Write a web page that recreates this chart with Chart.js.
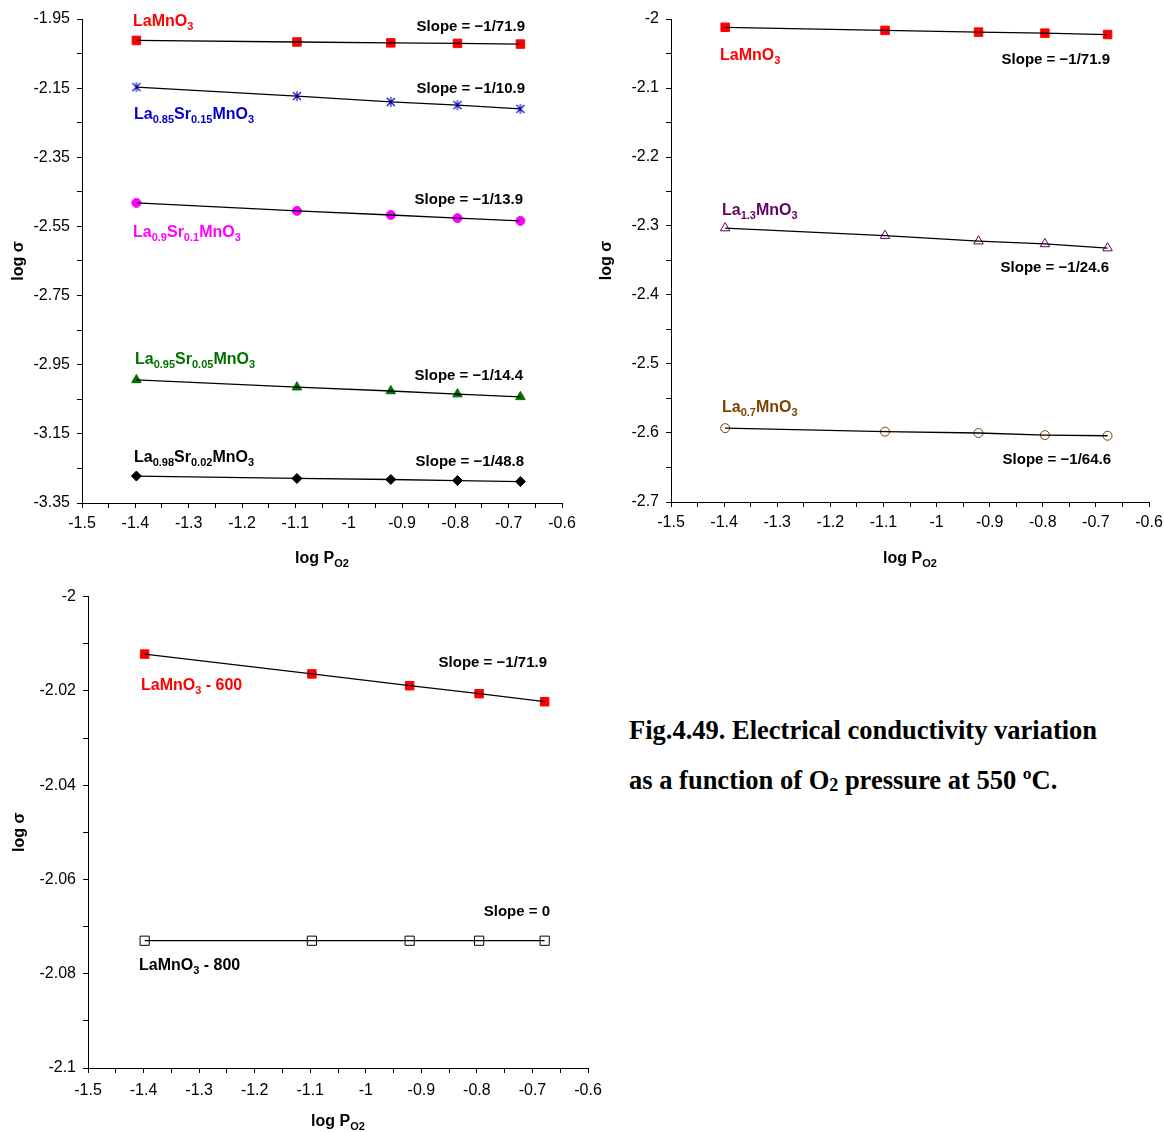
<!DOCTYPE html>
<html>
<head>
<meta charset="utf-8">
<script src="https://cdn.jsdelivr.net/npm/chart.js@4.4.1/dist/chart.umd.min.js"></script>
<style>
body { margin: 0; background: #fff; width: 1164px; height: 1132px; position: relative; overflow: hidden; }
canvas { position: absolute; }
#caption { position: absolute; left: 629px; top: 705px; font: bold 26.5px "Liberation Serif", "Times New Roman", serif; line-height: 50px; color: #000; white-space: nowrap; }
#caption .sub { font-size: 18px; vertical-align: -2px; }
</style>
</head>
<body>
<canvas id="chartA" width="590" height="580" style="left:0;top:0"></canvas>
<canvas id="chartB" width="590" height="580" style="left:590px;top:0"></canvas>
<canvas id="chartC" width="620" height="552" style="left:0;top:580px"></canvas>
<div id="caption">Fig.4.49. Electrical conductivity variation<br>as a function of O<span class="sub">2</span> pressure at 550 ºC.</div>
<script>
// log P(O2) for 0.04, 0.08, 0.12, 0.16, 0.21 atm
const logPO2 = [-1.398, -1.097, -0.921, -0.796, -0.678];

// top left panel
const laMnO3 = [-2.012, -2.0165, -2.019, -2.0205, -2.0225];
const la085Sr015 = [-2.147, -2.173, -2.190, -2.199, -2.210];
const la09Sr01 = [-2.482, -2.505, -2.517, -2.526, -2.534];
const la095Sr005 = [-2.994, -3.015, -3.026, -3.035, -3.043];
const la098Sr002 = [-3.272, -3.279, -3.282, -3.285, -3.288];

// top right panel
const la13MnO3 = [-2.303, -2.314, -2.322, -2.326, -2.332];
const la07MnO3 = [-2.593, -2.598, -2.600, -2.603, -2.604];

// bottom panel
const laMnO3_600 = [-2.0122, -2.0164, -2.0189, -2.0206, -2.0223];
const laMnO3_800 = [-2.073, -2.073, -2.073, -2.073, -2.073];

// tick labels (a minor tick sits halfway between labels)
const xLabels = ['-1.5', '-1.4', '-1.3', '-1.2', '-1.1', '-1', '-0.9', '-0.8', '-0.7', '-0.6'];
const yLabelsA = ['-3.35', '-3.15', '-2.95', '-2.75', '-2.55', '-2.35', '-2.15', '-1.95'];
const yLabelsB = ['-2.7', '-2.6', '-2.5', '-2.4', '-2.3', '-2.2', '-2.1', '-2'];
const yLabelsC = ['-2.1', '-2.08', '-2.06', '-2.04', '-2.02', '-2'];

const FONT = '"Liberation Sans", Arial, sans-serif';

function withMinor(labels) {
    const major = labels.map(Number);
    const out = [];
    major.forEach((v, i) => {
        out.push(v);
        if (i < major.length - 1) out.push((v + major[i + 1]) / 2);
    });
    return out;
}

function asterisk(color, r) {
    const c = document.createElement('canvas');
    const s = 2 * r + 2;
    c.width = c.height = s;
    const g = c.getContext('2d');
    const m = s / 2, d = r * 0.8;
    g.strokeStyle = color;
    g.lineWidth = 1.1;
    g.beginPath();
    g.moveTo(m, m - r); g.lineTo(m, m + r);
    g.moveTo(m - d, m - d); g.lineTo(m + d, m + d);
    g.moveTo(m + d, m - d); g.lineTo(m - d, m + d);
    g.stroke();
    return c;
}

function points(values) {
    return logPO2.map((x, i) => ({ x: x, y: values[i] }));
}

function markers(values, style) {
    return Object.assign({ data: points(values), showLine: false, order: 1, pointBorderWidth: 1 }, style);
}

function line(values) {
    return { data: points(values), showLine: true, borderColor: '#000', borderWidth: 1.3, pointRadius: 0, order: 0 };
}

// draws text where every odd part is a subscript
function drawRich(ctx, parts, x, y, align, color, size) {
    const sub = Math.round(size * 0.7);
    let w = 0;
    parts.forEach((p, i) => {
        ctx.font = 'bold ' + (i % 2 ? sub : size) + 'px ' + FONT;
        w += ctx.measureText(p).width;
    });
    let cx = align === 'right' ? x - w : align === 'center' ? x - w / 2 : x;
    ctx.fillStyle = color;
    ctx.textAlign = 'left';
    ctx.textBaseline = 'alphabetic';
    parts.forEach((p, i) => {
        ctx.font = 'bold ' + (i % 2 ? sub : size) + 'px ' + FONT;
        ctx.fillText(p, cx, y + (i % 2 ? size * 0.27 : 0));
        cx += ctx.measureText(p).width;
    });
}

function textPlugin(cfg) {
    return {
        id: 'texts',
        afterDraw(chart) {
            const ctx = chart.ctx;
            const a = chart.chartArea;
            ctx.save();
            cfg.texts.forEach(t => drawRich(ctx, t.parts, t.x, t.y, t.align, t.color, t.size || 16));
            drawRich(ctx, ['log P', 'O2'], (a.left + a.right) / 2, a.bottom + cfg.xTitleGap, 'center', '#000', 16);
            ctx.translate(cfg.yTitleX, (a.top + a.bottom) / 2);
            ctx.rotate(-Math.PI / 2);
            drawRich(ctx, ['log σ'], 0, 0, 'center', '#000', 16);
            ctx.restore();
        }
    };
}

function makeChart(id, cfg) {
    const xTicks = withMinor(xLabels);
    const yTicks = withMinor(cfg.yLabels);
    const axisGrid = { display: true, drawOnChartArea: false, drawTicks: true, tickLength: 5, color: '#000', lineWidth: 1 };
    new Chart(document.getElementById(id), {
        type: 'scatter',
        data: { datasets: cfg.datasets },
        options: {
            responsive: false,
            animation: false,
            events: [],
            layout: { padding: { left: 0, top: cfg.top, right: cfg.right, bottom: 0 } },
            plugins: { legend: { display: false }, tooltip: { enabled: false } },
            scales: {
                x: {
                    type: 'linear', min: -1.5, max: -0.6,
                    afterBuildTicks: s => { s.ticks = xTicks.map(v => ({ value: v })); },
                    afterFit: s => { s.height = cfg.xHeight; },
                    ticks: {
                        autoSkip: false, maxRotation: 0, padding: cfg.xPad, color: '#000',
                        font: { family: FONT, size: 16 },
                        callback: (v, i) => i % 2 === 0 ? xLabels[i / 2] : ''
                    },
                    grid: axisGrid,
                    border: { display: true, color: '#000', width: 1 }
                },
                y: {
                    type: 'linear', min: yTicks[0], max: yTicks[yTicks.length - 1],
                    afterBuildTicks: s => { s.ticks = yTicks.map(v => ({ value: v })); },
                    afterFit: s => { s.width = cfg.yWidth; },
                    ticks: {
                        autoSkip: false, padding: 7, color: '#000',
                        font: { family: FONT, size: 16 },
                        callback: (v, i) => i % 2 === 0 ? cfg.yLabels[i / 2] : ''
                    },
                    grid: axisGrid,
                    border: { display: true, color: '#000', width: 1 }
                }
            }
        },
        plugins: [textPlugin(cfg)]
    });
}

const RED = '#FF0000', BLUE = '#0000CC', MAGENTA = '#FF00FF', GREEN = '#007000',
      PURPLE = '#660066', BROWN = '#804000';

// top left
makeChart('chartA', {
    top: 19, right: 28, xHeight: 77, yWidth: 82, xTitleGap: 60, yTitleX: 23, xPad: 6,
    yLabels: yLabelsA,
    datasets: [
        markers(laMnO3, { pointStyle: 'rect', pointRadius: 6, pointBackgroundColor: RED, pointBorderColor: RED }),
        line(laMnO3),
        markers(la085Sr015, { pointStyle: asterisk(BLUE, 5), pointRadius: 5 }),
        line(la085Sr015),
        markers(la09Sr01, { pointStyle: 'circle', pointRadius: 4.5, pointBackgroundColor: MAGENTA, pointBorderColor: MAGENTA }),
        line(la09Sr01),
        markers(la095Sr005, { pointStyle: 'triangle', pointRadius: 5.5, pointBackgroundColor: GREEN, pointBorderColor: GREEN }),
        line(la095Sr005),
        markers(la098Sr002, { pointStyle: 'rectRot', pointRadius: 5, pointBackgroundColor: '#000', pointBorderColor: '#000' }),
        line(la098Sr002)
    ],
    texts: [
        { parts: ['LaMnO', '3'], x: 133, y: 26, align: 'left', color: RED },
        { parts: ['Slope = \u22121/71.9'], x: 525, y: 31, align: 'right', color: '#000', size: 15 },
        { parts: ['Slope = \u22121/10.9'], x: 525, y: 93, align: 'right', color: '#000', size: 15 },
        { parts: ['La', '0.85', 'Sr', '0.15', 'MnO', '3'], x: 134, y: 119, align: 'left', color: BLUE },
        { parts: ['Slope = \u22121/13.9'], x: 523, y: 204, align: 'right', color: '#000', size: 15 },
        { parts: ['La', '0.9', 'Sr', '0.1', 'MnO', '3'], x: 133, y: 237, align: 'left', color: MAGENTA },
        { parts: ['La', '0.95', 'Sr', '0.05', 'MnO', '3'], x: 135, y: 364, align: 'left', color: GREEN },
        { parts: ['Slope = \u22121/14.4'], x: 523, y: 380, align: 'right', color: '#000', size: 15 },
        { parts: ['La', '0.98', 'Sr', '0.02', 'MnO', '3'], x: 134, y: 462, align: 'left', color: '#000' },
        { parts: ['Slope = \u22121/48.8'], x: 524, y: 466, align: 'right', color: '#000', size: 15 }
    ]
});

// top right
makeChart('chartB', {
    top: 19, right: 31, xHeight: 78, yWidth: 81, xTitleGap: 61, yTitleX: 21, xPad: 6,
    yLabels: yLabelsB,
    datasets: [
        markers(laMnO3, { pointStyle: 'rect', pointRadius: 6, pointBackgroundColor: RED, pointBorderColor: RED }),
        line(laMnO3),
        markers(la13MnO3, { pointStyle: 'triangle', pointRadius: 5.5, pointBackgroundColor: '#fff', pointBorderColor: PURPLE }),
        line(la13MnO3),
        markers(la07MnO3, { pointStyle: 'circle', pointRadius: 4.5, pointBackgroundColor: '#fff', pointBorderColor: BROWN }),
        line(la07MnO3)
    ],
    texts: [
        { parts: ['LaMnO', '3'], x: 130, y: 60, align: 'left', color: RED },
        { parts: ['Slope = \u22121/71.9'], x: 520, y: 64, align: 'right', color: '#000', size: 15 },
        { parts: ['La', '1.3', 'MnO', '3'], x: 132, y: 215, align: 'left', color: PURPLE },
        { parts: ['Slope = \u22121/24.6'], x: 519, y: 272, align: 'right', color: '#000', size: 15 },
        { parts: ['La', '0.7', 'MnO', '3'], x: 132, y: 412, align: 'left', color: BROWN },
        { parts: ['Slope = \u22121/64.6'], x: 521, y: 464, align: 'right', color: '#000', size: 15 }
    ]
});

// bottom
makeChart('chartC', {
    top: 13, right: 32, xHeight: 64, yWidth: 88, xTitleGap: 58, yTitleX: 24, xPad: 8,
    yLabels: yLabelsC,
    datasets: [
        markers(laMnO3_600, { pointStyle: 'rect', pointRadius: 6, pointBackgroundColor: RED, pointBorderColor: RED }),
        line(laMnO3_600),
        markers(laMnO3_800, { pointStyle: 'rect', pointRadius: 6.5, pointBackgroundColor: '#fff', pointBorderColor: '#000' }),
        line(laMnO3_800)
    ],
    texts: [
        { parts: ['Slope = \u22121/71.9'], x: 547, y: 87, align: 'right', color: '#000', size: 15 },
        { parts: ['LaMnO', '3', ' - 600'], x: 141, y: 110, align: 'left', color: RED },
        { parts: ['Slope = 0'], x: 550, y: 336, align: 'right', color: '#000', size: 15 },
        { parts: ['LaMnO', '3', ' - 800'], x: 139, y: 390, align: 'left', color: '#000' }
    ]
});
</script>
</body>
</html>
